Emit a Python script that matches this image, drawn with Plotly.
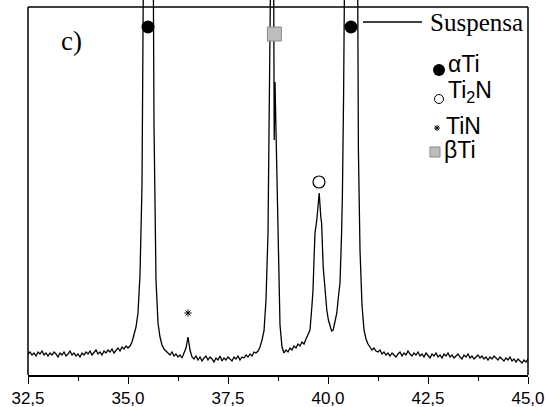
import plotly.graph_objects as go

# ---- XRD profile (2-theta in degrees, intensity in arbitrary units) ----
two_theta = [
    32.50, 32.55, 32.60, 32.65, 32.70, 32.75, 32.80, 32.85, 32.90, 32.95,
    33.00, 33.05, 33.10, 33.15, 33.20, 33.25, 33.30, 33.35, 33.40, 33.45,
    33.50, 33.55, 33.60, 33.65, 33.70, 33.75, 33.80, 33.85, 33.90, 33.95,
    34.00, 34.05, 34.10, 34.15, 34.20, 34.25, 34.30, 34.35, 34.40, 34.45,
    34.50, 34.55, 34.60, 34.65, 34.70, 34.75, 34.80, 34.85, 34.90, 34.95,
    35.00, 35.05, 35.10, 35.15, 35.20, 35.25, 35.30, 35.35, 35.40, 35.45,
    35.50, 35.55, 35.60, 35.65, 35.70, 35.75, 35.80, 35.85, 35.90, 35.95,
    36.00, 36.05, 36.10, 36.15, 36.20, 36.25, 36.30, 36.35, 36.40, 36.45,
    36.50, 36.55, 36.60, 36.65, 36.70, 36.75, 36.80, 36.85, 36.90, 36.95,
    37.00, 37.05, 37.10, 37.15, 37.20, 37.25, 37.30, 37.35, 37.40, 37.45,
    37.50, 37.55, 37.60, 37.65, 37.70, 37.75, 37.80, 37.85, 37.90, 37.95,
    38.00, 38.05, 38.10, 38.15, 38.20, 38.25, 38.30, 38.35, 38.40, 38.45,
    38.50, 38.525, 38.55, 38.59, 38.62, 38.64, 38.655, 38.675, 38.70, 38.75,
    38.80, 38.85, 38.90, 38.95, 39.00, 39.05, 39.10, 39.15, 39.20, 39.25,
    39.30, 39.35, 39.40, 39.45, 39.50, 39.55, 39.60, 39.625, 39.65, 39.675,
    39.72, 39.78, 39.82, 39.84, 39.88, 39.92, 39.97, 40.01, 40.05, 40.09,
    40.13, 40.175, 40.22, 40.26, 40.30, 40.34, 40.36, 40.39, 40.42, 40.47,
    40.55, 40.65, 40.72, 40.745, 40.76, 40.80, 40.85, 40.90, 40.95, 41.00,
    41.05, 41.10, 41.15, 41.20, 41.25, 41.30, 41.35, 41.40, 41.45, 41.50,
    41.55, 41.60, 41.65, 41.70, 41.75, 41.80, 41.85, 41.90, 41.95, 42.00,
    42.05, 42.10, 42.15, 42.20, 42.25, 42.30, 42.35, 42.40, 42.45, 42.50,
    42.55, 42.60, 42.65, 42.70, 42.75, 42.80, 42.85, 42.90, 42.95, 43.00,
    43.05, 43.10, 43.15, 43.20, 43.25, 43.30, 43.35, 43.40, 43.45, 43.50,
    43.55, 43.60, 43.65, 43.70, 43.75, 43.80, 43.85, 43.90, 43.95, 44.00,
    44.05, 44.10, 44.15, 44.20, 44.25, 44.30, 44.35, 44.40, 44.45, 44.50,
    44.55, 44.60, 44.65, 44.70, 44.75, 44.80, 44.85, 44.90, 44.95, 45.00,
]
intensity = [
    21, 23, 20, 22, 19, 23, 21, 24, 20, 22,
    19, 22, 20, 23, 21, 18, 22, 20, 23, 19,
    21, 24, 20, 22, 19, 21, 18, 22, 20, 23,
    21, 24, 20, 22, 25, 21, 23, 20, 24, 22,
    25, 23, 26, 22, 25, 27, 24, 28, 26, 29,
    27, 29, 33, 40, 48, 62, 100, 190, 560, 950,
    1100, 950, 680, 250, 95, 52, 38, 30, 26, 24,
    22, 20, 23, 19, 21, 18, 20, 17, 22, 27,
    38, 25, 18, 16, 19, 15, 18, 14, 17, 19,
    15, 18, 16, 13, 17, 15, 19, 14, 17, 15,
    18, 16, 14, 18, 16, 19, 15, 18, 17, 20,
    18, 21, 19, 23, 22, 24, 28, 35, 44, 75,
    142, 242, 310, 400, 620, 420, 235, 293, 242, 142,
    50, 28, 22, 25, 23, 27, 25, 29, 27, 31,
    29, 33, 31, 36, 40, 45, 70, 85, 115, 142,
    155, 182, 158, 152, 108, 85, 65, 55, 48, 44,
    45, 52, 62, 78, 92, 142, 180, 280, 380, 700,
    1100, 1000, 600, 375, 225, 125, 70, 45, 36, 31,
    28, 25, 27, 24, 23, 25, 21, 23, 20, 22,
    19, 22, 20, 18, 21, 23, 19, 22, 20, 24,
    21, 19, 22, 20, 23, 19, 21, 18, 22, 20,
    17, 21, 19, 22, 18, 20, 17, 21, 19, 22,
    18, 20, 17, 19, 21, 18, 16, 20, 18, 21,
    17, 19, 16, 18, 20, 17, 19, 16, 18, 15,
    18, 16, 19, 17, 15, 18, 16, 14, 17, 15,
    18, 14, 16, 13, 16, 14, 12, 15, 13, 16,
]

# ---- phase markers on peaks ----
alpha_x = [35.50, 40.575]
alpha_y = [348, 348]
beta_x = [38.66]
beta_y = [341]
ti2n_x = [39.775]
ti2n_y = [193]
tin_x = [36.50]
tin_y = [62]

# ---- legend key symbols ----
key_x = [42.775, 42.775, 42.725, 42.675]
key_y = [305, 276, 247, 223]
key_labels = ["αTi", "Ti<sub>2</sub>N", "TiN", "βTi"]
key_label_x = [42.95, 42.95, 42.90, 42.85]
key_label_y = [311, 284, 249, 225]

x_ticks = [32.5, 35.0, 37.5, 40.0, 42.5, 45.0]
series_name = "Suspensa"
panel_label = "c)"

Y_TOP = 375
FRAME_TOP = 368

fig = go.Figure()
fig.add_trace(go.Scatter(x=two_theta, y=intensity, mode="lines",
                         line=dict(color="black", width=1.3), showlegend=False))
fig.add_trace(go.Scatter(x=alpha_x, y=alpha_y, mode="markers",
                         marker=dict(symbol="circle", size=13, color="black"), showlegend=False))
fig.add_trace(go.Scatter(x=beta_x, y=beta_y, mode="markers",
                         marker=dict(symbol="square", size=14, color="#bdbdbd",
                                     line=dict(color="#8a8a8a", width=1)), showlegend=False))
fig.add_trace(go.Scatter(x=ti2n_x, y=ti2n_y, mode="markers",
                         marker=dict(symbol="circle-open", size=12, color="black",
                                     line=dict(width=1.2)), showlegend=False))
fig.add_trace(go.Scatter(x=tin_x, y=tin_y, mode="markers",
                         marker=dict(symbol="asterisk-open", size=6, color="black",
                                     line=dict(width=1)), showlegend=False))
# legend keys
fig.add_trace(go.Scatter(x=key_x[:1], y=key_y[:1], mode="markers",
                         marker=dict(symbol="circle", size=12, color="black"), showlegend=False))
fig.add_trace(go.Scatter(x=key_x[1:2], y=key_y[1:2], mode="markers",
                         marker=dict(symbol="circle-open", size=9, color="black",
                                     line=dict(width=1)), showlegend=False))
fig.add_trace(go.Scatter(x=key_x[2:3], y=key_y[2:3], mode="markers",
                         marker=dict(symbol="asterisk-open", size=5, color="black",
                                     line=dict(width=1)), showlegend=False))
fig.add_trace(go.Scatter(x=key_x[3:4], y=key_y[3:4], mode="markers",
                         marker=dict(symbol="square", size=10, color="#bdbdbd",
                                     line=dict(color="#8a8a8a", width=1)), showlegend=False))

annotations = []
for lbl, lx, ly in zip(key_labels, key_label_x, key_label_y):
    annotations.append(dict(x=lx, y=ly, xref="x", yref="y", text=lbl, showarrow=False,
                            xanchor="left", yanchor="middle",
                            font=dict(family="Liberation Sans, Arial", size=23, color="black")))
annotations.append(dict(x=42.5, y=353, xref="x", yref="y", text=series_name, showarrow=False,
                        xanchor="left", yanchor="middle",
                        font=dict(family="Liberation Serif, Times New Roman", size=25, color="black")))
annotations.append(dict(x=33.575, y=334, xref="x", yref="y", text=panel_label, showarrow=False,
                        xanchor="center", yanchor="middle",
                        font=dict(family="Liberation Serif, Times New Roman", size=27, color="black")))

shapes = [
    # frame (left, right, top)
    dict(type="line", xref="paper", yref="paper", x0=0, x1=0, y0=0, y1=FRAME_TOP / Y_TOP,
         line=dict(color="black", width=1.5)),
    dict(type="line", xref="paper", yref="paper", x0=1, x1=1, y0=0, y1=FRAME_TOP / Y_TOP,
         line=dict(color="black", width=1.5)),
    dict(type="line", xref="paper", yref="paper", x0=0, x1=1, y0=FRAME_TOP / Y_TOP, y1=FRAME_TOP / Y_TOP,
         line=dict(color="black", width=1.5)),
    # series key line
    dict(type="line", xref="x", yref="y", x0=40.875, x1=42.35, y0=353, y1=353,
         line=dict(color="black", width=1.3)),
]

fig.update_layout(
    width=546, height=407,
    margin=dict(l=28, r=18, t=0, b=32),
    paper_bgcolor="white", plot_bgcolor="white",
    separators=",.",
    showlegend=False,
    hovermode=False,
    annotations=annotations,
    shapes=shapes,
    xaxis=dict(range=[32.5, 45.0], tickvals=x_ticks, tickformat=".1f",
               showgrid=False, zeroline=False, showline=True, linecolor="black", linewidth=1.5,
               ticks="outside", ticklen=7, tickwidth=1.3, tickcolor="black",
               minor=dict(dtick=1.25, tick0=32.5, ticks="outside", ticklen=4, tickwidth=1.2,
                          tickcolor="black", showgrid=False),
               tickfont=dict(family="Liberation Sans, Arial", size=17, color="black")),
    yaxis=dict(range=[0, Y_TOP], showgrid=False, zeroline=False, showline=False,
               showticklabels=False, ticks=""),
)

fig.write_html("out.html",
               config={"displayModeBar": False},
               post_script="document.body.style.margin='0';document.body.style.padding='0';")
